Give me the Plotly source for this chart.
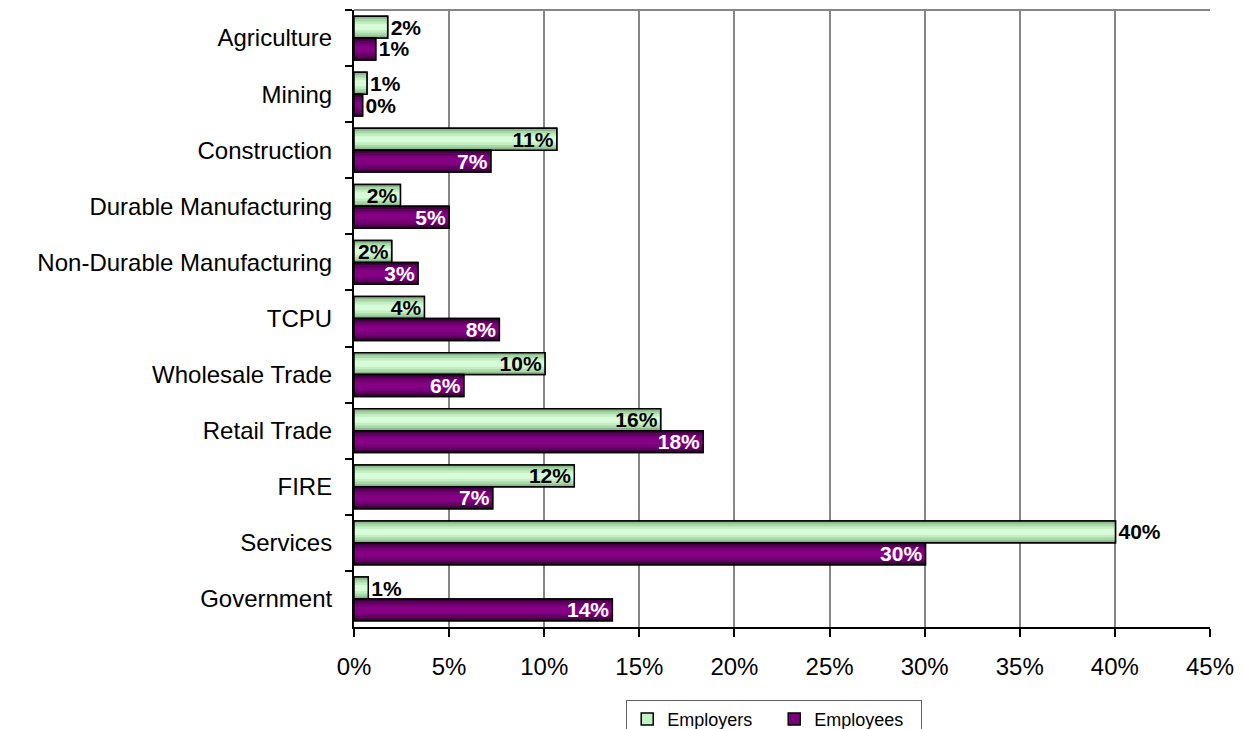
import plotly.graph_objects as go

sectors = ['Agriculture', 'Mining', 'Construction', 'Durable Manufacturing',
           'Non-Durable Manufacturing', 'TCPU', 'Wholesale Trade', 'Retail Trade',
           'FIRE', 'Services', 'Government']

employers = [0.0177, 0.0068, 0.1066, 0.0244, 0.0198, 0.0370, 0.1004, 0.1612,
             0.1158, 0.4003, 0.0075]
employees = [0.0114, 0.0045, 0.0719, 0.0499, 0.0336, 0.0764, 0.0577, 0.1835,
             0.0729, 0.3004, 0.1358]

x_ticks = [0, 0.05, 0.10, 0.15, 0.20, 0.25, 0.30, 0.35, 0.40, 0.45]

FONT = 'Arial, Liberation Sans, sans-serif'
W = 0.39  # bar thickness in category units

# per-bar label placement, as in the original Excel chart
pos_employers = ['outside', 'outside', 'inside', 'inside', 'inside', 'inside',
                 'inside', 'inside', 'inside', 'outside', 'outside']
pos_employees = ['outside', 'outside'] + ['inside'] * 9

# (name, values, slot offset, legend colour, shading bands, text positions, inside text colour)
series = [
    ('Employers', employers, -W, '#c4f2c4',
     [(0.0, '#8cb88c'), (0.12, '#a8d8a8'), (0.24, '#c2eec2'), (0.36, '#d8fbd8')],
     pos_employers, '#000000'),
    ('Employees', employees, 0.0, '#7c007c',
     [(0.0, '#420042'), (0.12, '#600060'), (0.24, '#760076'), (0.36, '#860086')],
     pos_employees, '#ffffff'),
]

fig = go.Figure()

for name, vals, off, col, bands, pos, txtcol in series:
    # base bar (carries the legend entry)
    fig.add_trace(go.Bar(
        name=name, y=sectors, x=vals, orientation='h',
        offset=off, width=W,
        marker=dict(color=col, line=dict(color='#000000', width=1.5)),
        hoverinfo='skip',
    ))
    # gradient-like shading, inset bands
    for inset, c in bands:
        fig.add_trace(go.Bar(
            y=sectors, x=vals, orientation='h',
            offset=off + W * inset, width=W * (1 - 2 * inset),
            marker=dict(color=c, line=dict(width=0)),
            showlegend=False, hoverinfo='skip',
        ))
    # outline + value labels on top
    fig.add_trace(go.Bar(
        y=sectors, x=vals, orientation='h',
        offset=off, width=W,
        marker=dict(color='rgba(0,0,0,0)', line=dict(color='#000000', width=1.5)),
        texttemplate='%{x:.0%}',
        textposition=pos,
        insidetextanchor='end',
        insidetextfont=dict(family=FONT, size=21, color=txtcol, weight='bold'),
        outsidetextfont=dict(family=FONT, size=21, color='#000000', weight='bold'),
        constraintext='none',
        cliponaxis=False,
        showlegend=False,
        name=name,
    ))

# the page body adds an 8px offset, so the figure is 8px smaller than the window
fig.update_layout(
    width=1235, height=721,
    barmode='overlay',
    plot_bgcolor='white',
    paper_bgcolor='white',
    font=dict(family=FONT, size=24, color='#000000'),
    margin=dict(l=346, r=33, t=2, b=102, autoexpand=False),
    xaxis=dict(
        range=[0, 0.45],
        tickvals=x_ticks,
        tickformat='.0%',
        showgrid=True, gridcolor='#868686', gridwidth=1.5,
        zeroline=False,
        showline=True, linecolor='#000000', linewidth=2,
        ticks='outside', ticklen=8, tickwidth=2, tickcolor='#000000',
        ticklabelstandoff=9,
        automargin=False,
        tickfont=dict(size=24),
    ),
    yaxis=dict(
        categoryorder='array', categoryarray=sectors,
        range=[10.5, -0.5],
        showline=True, linecolor='#000000', linewidth=2,
        ticks='outside', tickson='boundaries', ticklen=7, tickwidth=2,
        tickcolor='#000000',
        ticklabelstandoff=15,
        showgrid=False,
        automargin=False,
        tickfont=dict(size=24),
    ),
    legend=dict(
        orientation='h',
        x=0.318, xanchor='left',
        y=-0.118, yanchor='top',
        bordercolor='#606060', borderwidth=1,
        font=dict(size=18),
        entrywidth=102,
    ),
    shapes=[
        dict(type='line', xref='paper', yref='paper', x0=0, x1=1, y0=1, y1=1,
             line=dict(color='#868686', width=2)),
    ],
)

fig.write_html('out.html')
